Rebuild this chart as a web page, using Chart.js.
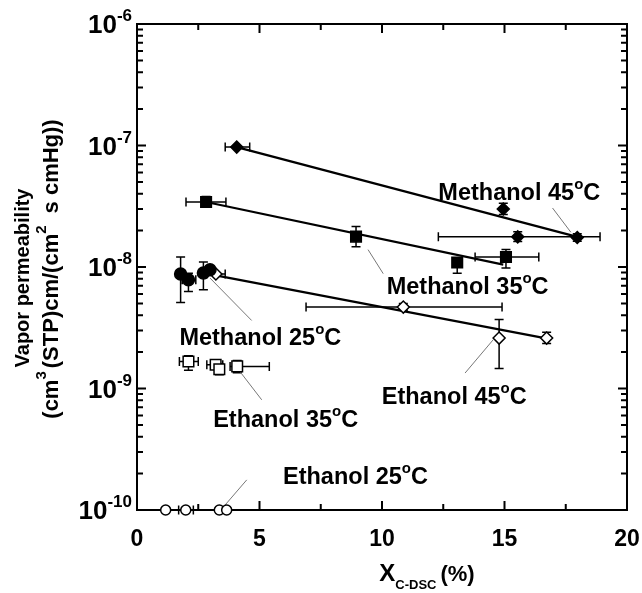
<!DOCTYPE html>
<html>
<head>
<meta charset="utf-8">
<script src="https://cdn.jsdelivr.net/npm/chart.js@4.4.1/dist/chart.umd.min.js"></script>
<style>
  body { margin: 0; background: #fff; }
  canvas { display: block; }
</style>
</head>
<body>
<canvas id="chart" width="642" height="593"></canvas>
<script>
// Methanol 45 C (filled diamonds)
const m45X = [4.07, 14.95, 15.54, 17.97];
const m45Y = [9.7e-8, 3.0e-8, 1.77e-8, 1.75e-8];
const m45XErr = [[3.6, 4.6], null, [12.3, 18.9], null];
const m45YErr = [null, [2.7e-8, 3.35e-8], [1.62e-8, 1.95e-8], [1.63e-8, 1.88e-8]];

// Methanol 35 C (filled squares)
const m35X = [2.82, 8.94, 13.07, 15.06];
const m35Y = [3.43e-8, 1.78e-8, 1.09e-8, 1.21e-8];
const m35XErr = [[2.0, 3.63], null, null, [13.8, 16.4]];
const m35YErr = [[3.1e-8, 3.8e-8], [1.47e-8, 2.15e-8], [8.9e-9, 1.15e-8], [9.8e-9, 1.39e-8]];

// Methanol 25 C (filled circles)
const m25X = [1.78, 2.1, 2.71, 2.98];
const m25Y = [8.75e-9, 7.86e-9, 8.93e-9, 9.5e-9];
const m25XErr = [null, [1.85, 2.4], null, null];
const m25YErr = [[5.1e-9, 1.21e-8], [6.3e-9, 8.9e-9], [6.5e-9, 1.1e-8], null];

// Ethanol 45 C (open diamonds)
const e45X = [3.22, 10.87, 14.78, 16.72];
const e45Y = [8.75e-9, 4.68e-9, 2.6e-9, 2.6e-9];
const e45XErr = [[2.85, 3.6], [6.9, 14.9], null, null];
const e45YErr = [null, [4.4e-9, 5.0e-9], [1.46e-9, 3.7e-9], [2.35e-9, 2.9e-9]];

// Ethanol 35 C (open squares)
const e35X = [2.1, 3.21, 3.36, 4.09];
const e35Y = [1.67e-9, 1.57e-9, 1.44e-9, 1.52e-9];
const e35XErr = [[1.73, 2.5], [2.85, 3.5], null, [3.8, 5.4]];
const e35YErr = [[1.41e-9, 1.86e-9], null, [1.3e-9, 1.6e-9], [1.35e-9, 1.7e-9]];

// Ethanol 25 C (open circles)
const e25X = [1.17, 1.99, 3.36, 3.66];
const e25Y = [1e-10, 1e-10, 1e-10, 1e-10];
const e25XErr = [null, [1.7, 2.3], null, null];
const e25YErr = [null, null, null, null];

// fitted lines (end points)
const m45FitX = [4.07, 17.97];
const m45FitY = [9.7e-8, 1.77e-8];
const m35FitX = [2.82, 14.95];
const m35FitY = [3.43e-8, 1.045e-8];
const e45FitX = [3.0, 16.86];
const e45FitY = [8.7e-9, 2.55e-9];

// tick labels
const xTicks = [0, 5, 10, 15, 20];
const yTicks = [1e-6, 1e-7, 1e-8, 1e-9, 1e-10];
const yTickExp = ["-6", "-7", "-8", "-9", "-10"];

// annotation labels and leader lines (data units)
const labelText = ["Methanol 45", "Methanol 35", "Methanol 25", "Ethanol 45", "Ethanol 35", "Ethanol 25"];
const labelX = [12.3, 10.19, 1.73, 9.99, 3.11, 5.96];
const labelY = [3.58e-8, 6.03e-9, 2.29e-9, 7.48e-10, 4.83e-10, 1.64e-10];
const leadX1 = [16.96, 9.43, 2.98, 14.54, 4.2, 3.42];
const leadY1 = [3.06e-8, 1.39e-8, 8.11e-9, 2.52e-9, 1.38e-9, 1e-10];
const leadX2 = [17.71, 10.05, 4.68, 13.39, 5.09, 4.48];
const leadY2 = [1.93e-8, 8.81e-9, 3.63e-9, 1.34e-9, 8.07e-10, 1.77e-10];

const FONT = '"Liberation Sans", Arial, sans-serif';

const series = [
  { x: m45X, y: m45Y, xe: m45XErr, ye: m45YErr, style: "rectRot", bg: "#000", r: 6 },
  { x: m35X, y: m35Y, xe: m35XErr, ye: m35YErr, style: "rect", bg: "#000", r: 7.5 },
  { x: m25X, y: m25Y, xe: m25XErr, ye: m25YErr, style: "circle", bg: "#000", r: 6 },
  { x: e45X, y: e45Y, xe: e45XErr, ye: e45YErr, style: "rectRot", bg: "#fff", r: 6 },
  { x: e35X, y: e35Y, xe: e35XErr, ye: e35YErr, style: "rect", bg: "#fff", r: 7.5 },
  { x: e25X, y: e25Y, xe: e25XErr, ye: e25YErr, style: "circle", bg: "#fff", r: 5 }
];

function pts(xs, ys) {
  return xs.map((x, i) => ({ x: x, y: ys[i] }));
}

const datasets = series.map(s => ({
  type: "scatter",
  data: pts(s.x, s.y),
  pointStyle: s.style,
  pointRadius: s.r,
  pointBackgroundColor: s.bg,
  pointBorderColor: "#000",
  pointBorderWidth: 1.5,
  clip: false,
  order: 1
}));

[[m45FitX, m45FitY], [m35FitX, m35FitY], [e45FitX, e45FitY]].forEach(f => {
  datasets.push({
    type: "line",
    data: pts(f[0], f[1]),
    borderColor: "#000",
    borderWidth: 2.2,
    pointRadius: 0,
    fill: false,
    clip: false,
    order: 3
  });
});

// draws text pieces, some raised or lowered
function richText(c, x, y, parts, align) {
  let w = 0;
  parts.forEach(p => {
    c.font = "bold " + p.size + "px " + FONT;
    p.w = c.measureText(p.t).width + (p.gap || 0);
    w += p.w;
  });
  let cx = align === "right" ? x - w : align === "center" ? x - w / 2 : x;
  parts.forEach(p => {
    c.font = "bold " + p.size + "px " + FONT;
    c.fillText(p.t, cx, y + (p.dy || 0));
    cx += p.w;
  });
}

const decor = {
  id: "decor",
  beforeDatasetsDraw(chart) {
    const c = chart.ctx;
    const xs = chart.scales.x, ys = chart.scales.y;
    const a = chart.chartArea;
    c.save();
    c.strokeStyle = "#000";

    // frame and inward ticks
    c.lineWidth = 2;
    c.strokeRect(a.left, a.top, a.right - a.left, a.bottom - a.top);
    c.beginPath();
    for (let e = -10; e < -6; e++) {
      for (let m = 1; m <= 9; m++) {
        const py = ys.getPixelForValue(m * Math.pow(10, e));
        const len = m === 1 ? 9 : 6;
        c.moveTo(a.left, py); c.lineTo(a.left + len, py);
        c.moveTo(a.right, py); c.lineTo(a.right - len, py);
      }
    }
    for (let v = 0; v <= 20; v += 2.5) {
      const px = xs.getPixelForValue(v);
      const len = v % 5 === 0 ? 9 : 6;
      c.moveTo(px, a.bottom); c.lineTo(px, a.bottom - len);
      c.moveTo(px, a.top); c.lineTo(px, a.top + len);
    }
    c.stroke();

    // error bars
    c.lineWidth = 1.5;
    c.beginPath();
    series.forEach(s => {
      s.x.forEach((xv, i) => {
        const px = xs.getPixelForValue(xv), py = ys.getPixelForValue(s.y[i]);
        if (s.xe[i]) {
          const p1 = xs.getPixelForValue(s.xe[i][0]), p2 = xs.getPixelForValue(s.xe[i][1]);
          c.moveTo(p1, py); c.lineTo(p2, py);
          c.moveTo(p1, py - 4.5); c.lineTo(p1, py + 4.5);
          c.moveTo(p2, py - 4.5); c.lineTo(p2, py + 4.5);
        }
        if (s.ye[i]) {
          const q1 = ys.getPixelForValue(s.ye[i][0]), q2 = ys.getPixelForValue(s.ye[i][1]);
          c.moveTo(px, q1); c.lineTo(px, q2);
          c.moveTo(px - 4.5, q1); c.lineTo(px + 4.5, q1);
          c.moveTo(px - 4.5, q2); c.lineTo(px + 4.5, q2);
        }
      });
    });
    c.stroke();

    // leader lines
    c.strokeStyle = "#777";
    c.lineWidth = 1;
    c.beginPath();
    leadX1.forEach((v, i) => {
      c.moveTo(xs.getPixelForValue(v), ys.getPixelForValue(leadY1[i]));
      c.lineTo(xs.getPixelForValue(leadX2[i]), ys.getPixelForValue(leadY2[i]));
    });
    c.stroke();
    c.restore();
  },
  afterDraw(chart) {
    const c = chart.ctx;
    const xs = chart.scales.x, ys = chart.scales.y;
    c.save();
    c.fillStyle = "#000";
    c.textBaseline = "alphabetic";

    // y tick labels: 10 with raised exponent
    yTicks.forEach((v, i) => {
      const py = ys.getPixelForValue(v);
      richText(c, 132, py + 9, [
        { t: "10", size: 26 },
        { t: yTickExp[i], size: 17, dy: -12 }
      ], "right");
    });

    // x tick labels
    c.textAlign = "center";
    c.font = "bold 23px " + FONT;
    xTicks.forEach(v => {
      c.fillText(String(v), xs.getPixelForValue(v), 546);
    });
    c.textAlign = "left";

    // x title
    richText(c, 427, 581, [
      { t: "X", size: 24 },
      { t: "C-DSC", size: 13, dy: 8, gap: 4 },
      { t: "(%)", size: 22 }
    ], "center");

    // y title
    c.save();
    c.rotate(-Math.PI / 2);
    c.textAlign = "center";
    c.font = "bold 20px " + FONT;
    c.fillText("Vapor permeability", -278, 29);
    c.textAlign = "left";
    richText(c, -269, 58, [
      { t: "(cm", size: 22 },
      { t: "3", size: 15, dy: -12, gap: 3 },
      { t: "(STP)cm/(cm", size: 22 },
      { t: "2", size: 15, dy: -12, gap: 12 },
      { t: "s cmHg))", size: 22 }
    ], "center");
    c.restore();

    // series labels
    labelText.forEach((t, i) => {
      richText(c, xs.getPixelForValue(labelX[i]), ys.getPixelForValue(labelY[i]), [
        { t: t, size: 23.5 },
        { t: "o", size: 15, dy: -11 },
        { t: "C", size: 23.5 }
      ], "left");
    });
    c.restore();
  }
};

new Chart(document.getElementById("chart").getContext("2d"), {
  data: { datasets: datasets },
  options: {
    responsive: false,
    animation: false,
    devicePixelRatio: 1,
    layout: { padding: { left: 137, right: 15, top: 24, bottom: 83 } },
    scales: {
      x: { type: "linear", min: 0, max: 20, display: false },
      y: { type: "logarithmic", min: 1e-10, max: 1e-6, display: false }
    },
    plugins: {
      legend: { display: false },
      tooltip: { enabled: false }
    }
  },
  plugins: [decor]
});
</script>
</body>
</html>
